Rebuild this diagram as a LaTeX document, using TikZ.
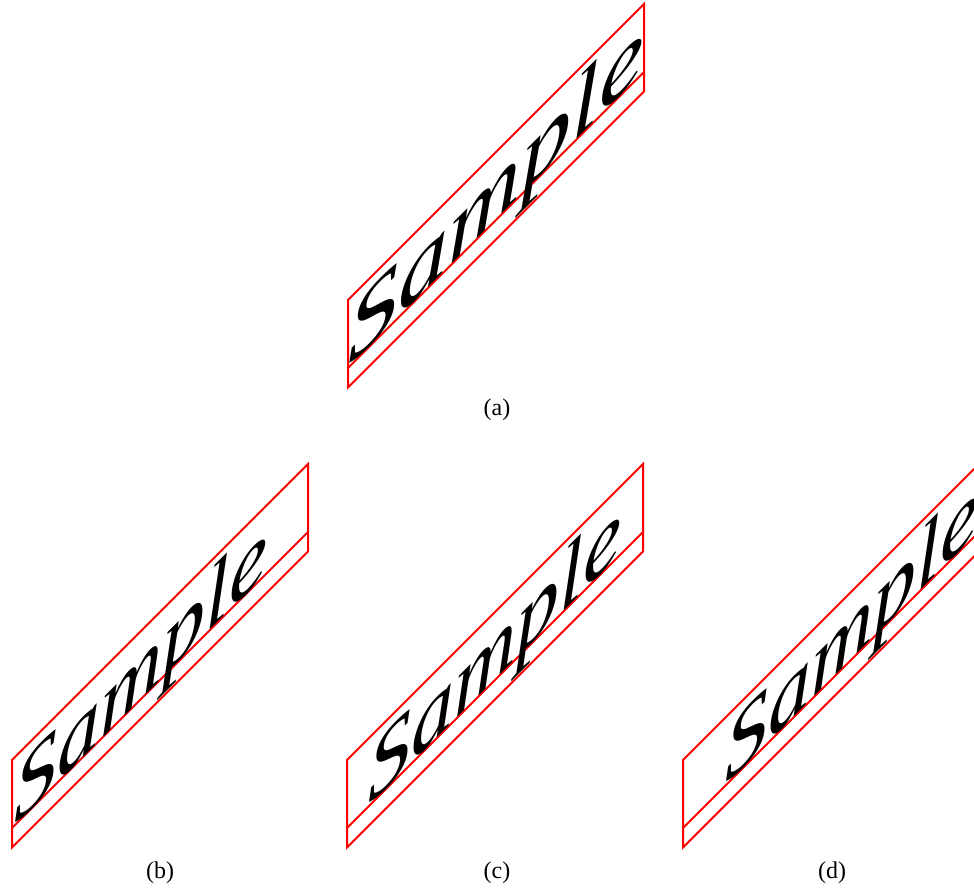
\documentclass[tikz,border=0pt]{standalone}
\usepackage{fontspec}
\setmainfont{Liberation Serif}
\usepackage{graphicx}
\usepackage{xcolor}
\usepackage{tikz}
\usetikzlibrary{calc}

\tikzset{
  skewbox/.style={draw=red, line width=1pt, line join=miter},
  sampletext/.style={inner sep=0pt, outer sep=0pt, transform shape,
    font=\fontsize{43}{50}\selectfont\itshape},
  sublabel/.style={inner sep=0pt, font=\fontsize{12}{14}\selectfont}
}

\begin{document}
\begin{tikzpicture}[x=0.5pt, y=0.5pt]
  \useasboundingbox (0,0) rectangle (974,890);

  % (a) text stretched to the full box
  \begin{scope}[shift={(348,522)}, cm={1,1,0,1,(0,0)}]
    \coordinate (A1) at (0,-19.5);
    \coordinate (A2) at (296,-19.5);
    \coordinate (A3) at (296,68);
    \coordinate (A4) at (0,68);
    \draw[skewbox] (A1) -- (A2) -- (A3) -- (A4) -- cycle;
    \draw[skewbox] (0,0) coordinate (A5) -- (296,0) coordinate (A6);
    \node[sampletext, anchor=base west] (textA) at (A5) {\resizebox{148pt}{\height}{Sample}};
  \end{scope}

  % (b) start
  \begin{scope}[shift={(12,62)}, cm={1,1,0,1,(0,0)}]
    \coordinate (B1) at (0,-19.5);
    \coordinate (B2) at (296,-19.5);
    \coordinate (B3) at (296,68);
    \coordinate (B4) at (0,68);
    \draw[skewbox] (B1) -- (B2) -- (B3) -- (B4) -- cycle;
    \draw[skewbox] (0,0) coordinate (B5) -- (296,0) coordinate (B6);
    \node[sampletext, anchor=base west] (textB) at ($(B5)+(2,0)$) {Sample};
  \end{scope}

  % (c) middle
  \begin{scope}[shift={(347,62)}, cm={1,1,0,1,(0,0)}]
    \coordinate (C1) at (0,-19.5);
    \coordinate (C2) at (296,-19.5);
    \coordinate (C3) at (296,68);
    \coordinate (C4) at (0,68);
    \draw[skewbox] (C1) -- (C2) -- (C3) -- (C4) -- cycle;
    \draw[skewbox] (0,0) coordinate (C5) -- (296,0) coordinate (C6);
    \node[sampletext, anchor=base] (textC) at ($(C5)!0.5!(C6)$) {Sample};
  \end{scope}

  % (d) end
  \begin{scope}[shift={(683,62)}, cm={1,1,0,1,(0,0)}]
    \coordinate (D1) at (0,-19.5);
    \coordinate (D2) at (296,-19.5);
    \coordinate (D3) at (296,68);
    \coordinate (D4) at (0,68);
    \draw[skewbox] (D1) -- (D2) -- (D3) -- (D4) -- cycle;
    \draw[skewbox] (0,0) coordinate (D5) -- (296,0) coordinate (D6);
    \node[sampletext, anchor=base east] (textD) at (D6) {Sample};
  \end{scope}

  % Labels
  \node[sublabel] (labA) at (497,480) {(a)};
  \node[sublabel] (labB) at (160,17) {(b)};
  \node[sublabel] (labC) at (497,17) {(c)};
  \node[sublabel] (labD) at (832,17) {(d)};
\end{tikzpicture}
\end{document}
